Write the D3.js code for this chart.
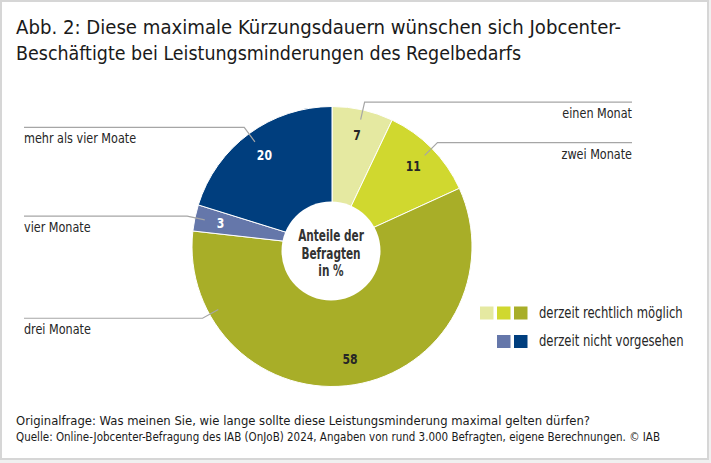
<!DOCTYPE html>
<html>
<head>
<meta charset="utf-8">
<script src="https://cdn.jsdelivr.net/npm/d3@7"></script>
<style>
    body { margin: 0; background: #fff; }
    svg text { font-family: "DejaVu Sans Condensed", "Open Sans", sans-serif; fill: #262626; }
</style>
</head>
<body>
<div class="graph"></div>
<script>
// data (clockwise from 12 o'clock)
const categories = ['einen Monat', 'zwei Monate', 'drei Monate', 'vier Monate', 'mehr als vier Moate'];
const shares = [7, 11, 58, 3, 20];
const groups = ['möglich', 'möglich', 'möglich', 'nicht', 'nicht'];
const legendLabels = ['derzeit rechtlich möglich', 'derzeit nicht vorgesehen'];
const titleLines = ['Abb. 2: Diese maximale Kürzungsdauern wünschen sich Jobcenter-',
    'Beschäftigte bei Leistungsminderungen des Regelbedarfs'];
const centerLines = ['Anteile der', 'Befragten', 'in %'];
const footLines = ['Originalfrage: Was meinen Sie, wie lange sollte diese Leistungsminderung maximal gelten dürfen?',
    'Quelle: Online-Jobcenter-Befragung des IAB (OnJoB) 2024, Angaben von rund 3.000 Befragten, eigene Berechnungen. © IAB'];

const colors = ['#e5e9a1', '#d0d82f', '#a8ae28', '#6577aa', '#003e7e'];
const valueColors = ['#262626', '#262626', '#262626', '#fff', '#fff'];

// the original font is narrower than anything installed, so squeeze text to its width
const squeeze = (k) => (sel) => sel.each(function () {
    const w = this.getComputedTextLength();
    d3.select(this).attr('textLength', w * k).attr('lengthAdjust', 'spacingAndGlyphs');
});
// long lines get their measured width from the picture
const titleWidth = [605, 505];
const footWidth = [574, 644];

const svgDim = { w: 711, h: 463 }
const cx = 332, cy = 246.5, R = 140;

const svg = d3.select('.graph')
    .append('svg')
    .attr('width', svgDim.w)
    .attr('height', svgDim.h);

// frame
svg.append('rect').attr('x', 0).attr('y', 0).attr('width', svgDim.w).attr('height', svgDim.h).attr('fill', '#f0f0f0');
svg.append('rect').attr('x', 1).attr('y', 1).attr('width', 707).attr('height', 458)
    .attr('fill', '#fff').attr('stroke', '#d6d6d6').attr('stroke-width', 2);

// title
svg.selectAll('.title')
    .data(titleLines)
    .enter()
    .append('text')
    .attr('class', 'title')
    .attr('x', 16)
    .attr('y', (d, i) => 34 + i * 26)
    .attr('textLength', (d, i) => titleWidth[i])
    .attr('lengthAdjust', 'spacingAndGlyphs')
    .style('font-size', '20px')
    .style('fill', '#1a1a1a')
    .text(d => d);

const pie = d3.pie().sort(null).value(d => d);
const arcs = pie(shares);
const arc = d3.arc().innerRadius(0).outerRadius(R);

const g = svg.append('g').attr('transform', `translate(${cx},${cy})`);

g.selectAll('path')
    .data(arcs)
    .enter()
    .append('path')
    .attr('d', arc)
    .attr('fill', (d, i) => colors[i])
    .attr('stroke', '#fff')
    .attr('stroke-width', 1);

// hole
svg.append('circle').attr('cx', 331).attr('cy', 251).attr('r', 49.5).attr('fill', '#fff');

// helpers for polar positions
const pt = (a, r) => [Math.sin(a) * r, -Math.cos(a) * r];
const midAngle = d => (d.startAngle + d.endAngle) / 2;

// value labels
g.selectAll('.val')
    .data(arcs)
    .enter()
    .append('text')
    .attr('class', 'val')
    .attr('x', d => pt(midAngle(d), 114)[0])
    .attr('y', d => pt(midAngle(d), 114)[1])
    .attr('dy', '0.35em')
    .attr('text-anchor', 'middle')
    .style('font-size', '14px')
    .style('font-weight', 'bold')
    .style('fill', (d, i) => valueColors[i])
    .text(d => d.data)
    .call(squeeze(0.86));

// leader lines; 'drei Monate' leaves from the left side of its slice
const leaderAngle = (d, i) => i === 2 ? 241 * Math.PI / 180 : midAngle(d);
const leftSide = (d, i) => leaderAngle(d, i) > Math.PI;

arcs.forEach((d, i) => {
    const a = leaderAngle(d, i);
    const p0 = pt(a, 130), p1 = pt(a, 148);
    const xEnd = leftSide(d, i) ? 24 - cx : 632 - cx;
    g.append('polyline')
        .attr('points', [p0, p1, [xEnd, p1[1]]].map(p => p.join(',')).join(' '))
        .attr('fill', 'none')
        .attr('stroke', '#a6a6a6')
        .attr('stroke-width', 1.2);
    g.append('text')
        .attr('x', xEnd)
        .attr('y', p1[1] + 16)
        .attr('text-anchor', leftSide(d, i) ? 'start' : 'end')
        .style('font-size', '14.5px')
        .text(categories[i])
        .call(squeeze(0.86));
});

// center text
svg.selectAll('.center')
    .data(centerLines)
    .enter()
    .append('text')
    .attr('class', 'center')
    .attr('x', 331)
    .attr('y', (d, i) => 241 + i * 17.5)
    .attr('text-anchor', 'middle')
    .style('font-size', '15px')
    .style('font-weight', 'bold')
    .style('fill', '#333')
    .text(d => d)
    .call(squeeze(0.78));

// legend
const legendGroups = ['möglich', 'nicht'];
legendGroups.forEach((grp, row) => {
    const idx = shares.map((s, i) => i).filter(i => groups[i] === grp);
    const y = 306.5 + row * 28.5;
    idx.forEach((ci, k) => {
        svg.append('rect')
            .attr('x', 531 - (idx.length - k) * 17)
            .attr('y', y)
            .attr('width', 13.5)
            .attr('height', 13)
            .attr('fill', colors[ci]);
    });
    svg.append('text')
        .attr('x', 539)
        .attr('y', y + 11)
        .style('font-size', '15px')
        .text(legendLabels[row])
        .call(squeeze(0.86));
});

// footer
svg.selectAll('.foot')
    .data(footLines)
    .enter()
    .append('text')
    .attr('class', 'foot')
    .attr('x', 16)
    .attr('y', (d, i) => 425 + i * 15.5)
    .attr('textLength', (d, i) => footWidth[i])
    .attr('lengthAdjust', 'spacingAndGlyphs')
    .style('font-size', '12px')
    .style('fill', '#1a1a1a')
    .text(d => d);
</script>
</body>
</html>
